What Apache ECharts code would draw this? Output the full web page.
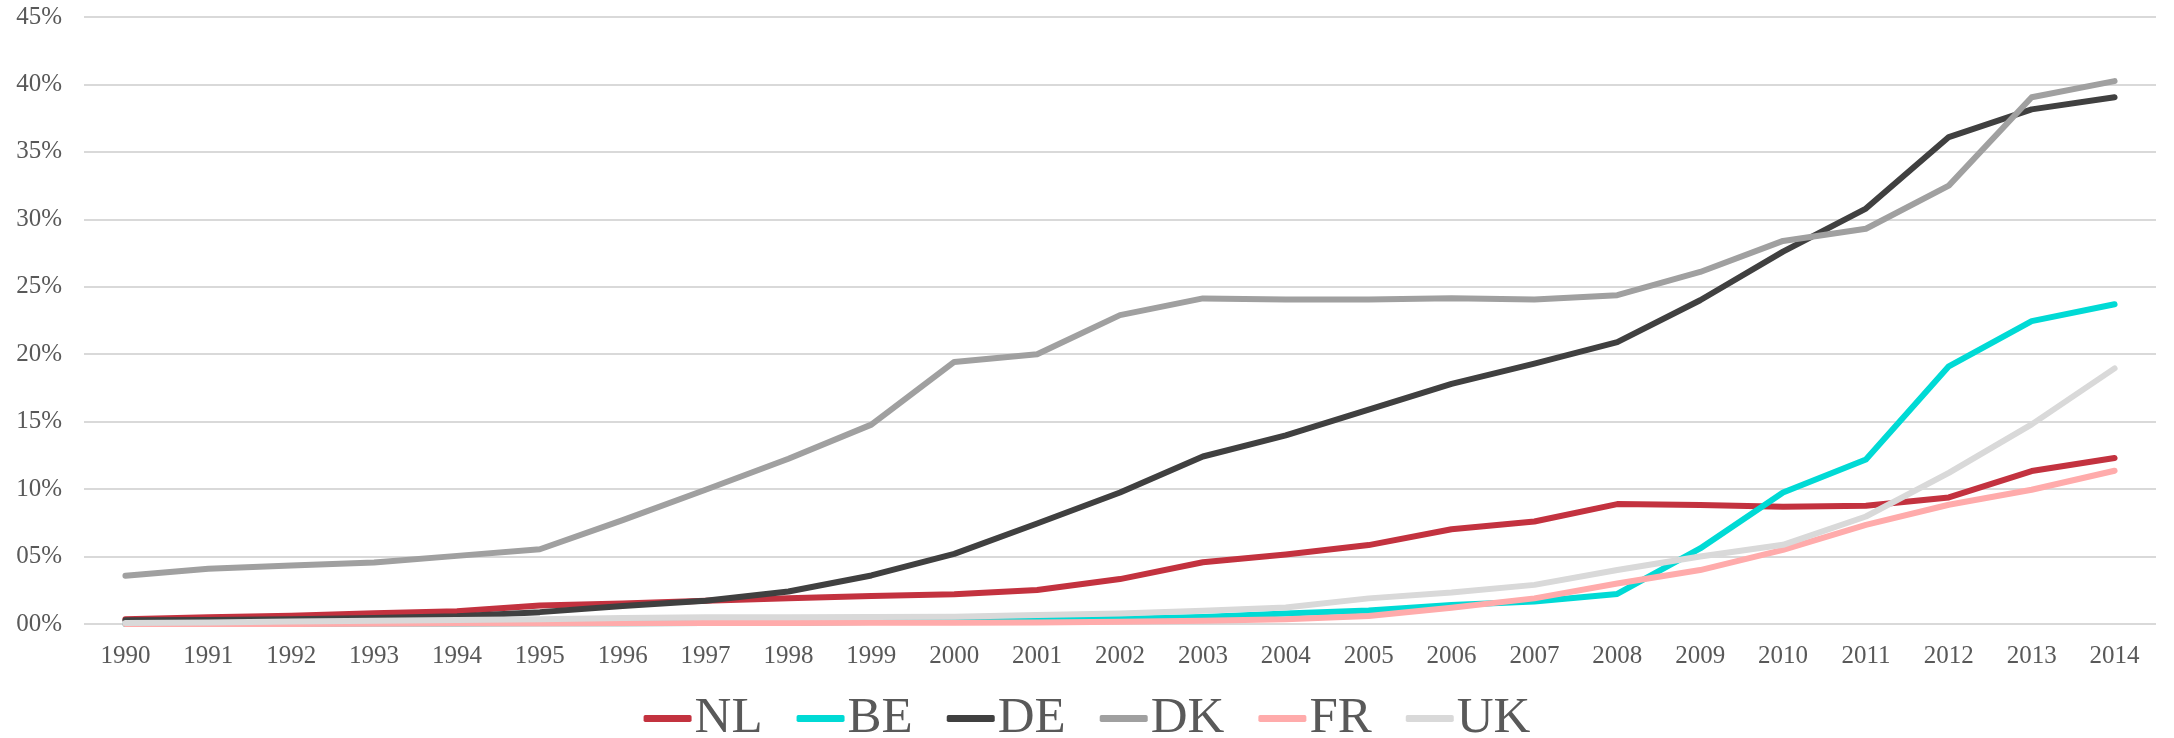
<!DOCTYPE html>
<html>
<head>
<meta charset="utf-8">
<script src="https://cdn.jsdelivr.net/npm/echarts@6/dist/echarts.min.js"></script>
<style>
html,body{margin:0;padding:0;background:#fff;}
#chart{width:2174px;height:738px;}
</style>
</head>
<body>
<div id="chart"></div>
<script>
var years = ['1990','1991','1992','1993','1994','1995','1996','1997','1998','1999','2000','2001','2002','2003','2004','2005','2006','2007','2008','2009','2010','2011','2012','2013','2014'];
var NL = [0.35,0.5,0.62,0.8,0.95,1.38,1.52,1.72,1.9,2.08,2.2,2.52,3.33,4.58,5.15,5.85,7.02,7.6,8.89,8.82,8.7,8.77,9.38,11.34,12.3];
var BE = [0.0,0.0,0.02,0.03,0.04,0.05,0.06,0.08,0.1,0.14,0.18,0.28,0.38,0.52,0.78,1.0,1.4,1.66,2.23,5.6,9.75,12.2,19.1,22.45,23.7];
var DE = [0.27,0.3,0.36,0.45,0.57,0.88,1.33,1.73,2.41,3.6,5.2,7.45,9.75,12.42,13.98,15.9,17.8,19.3,20.9,24.0,27.6,30.8,36.1,38.15,39.05];
var DK = [3.57,4.09,4.33,4.56,5.05,5.54,7.7,9.95,12.25,14.78,19.43,20.0,22.9,24.14,24.05,24.05,24.15,24.05,24.38,26.1,28.4,29.3,32.5,39.05,40.25];
var FR = [0.0,0.0,0.0,0.02,0.03,0.04,0.05,0.07,0.08,0.09,0.1,0.12,0.16,0.24,0.35,0.6,1.2,1.9,3.0,4.0,5.5,7.35,8.84,9.95,11.36];
var UK = [0.08,0.12,0.18,0.24,0.3,0.36,0.44,0.5,0.5,0.52,0.54,0.66,0.78,0.98,1.22,1.9,2.33,2.9,4.0,5.0,5.87,7.97,11.2,14.8,18.95];
var yTicks = {min:0, max:45, interval:5};

var seriesDefs = [
  {name:'NL', data:NL, color:'#c3323f'},
  {name:'BE', data:BE, color:'#00dad5'},
  {name:'DE', data:DE, color:'#404040'},
  {name:'DK', data:DK, color:'#a0a0a0'},
  {name:'FR', data:FR, color:'#ffabab'},
  {name:'UK', data:UK, color:'#d9d9d9'}
];

var font = '"Liberation Serif", "DejaVu Serif", serif';
var chart = echarts.init(document.getElementById('chart'), null, {renderer:'canvas'});
chart.setOption({
  animation:false,
  backgroundColor:'#ffffff',
  grid:{left:84, right:18, top:17, bottom:114, containLabel:false},
  xAxis:{
    type:'category',
    data:years,
    boundaryGap:true,
    axisLine:{show:false},
    axisTick:{show:false},
    axisLabel:{color:'#595959', fontFamily:font, fontSize:25, margin:20}
  },
  yAxis:{
    type:'value',
    min:yTicks.min, max:yTicks.max, interval:yTicks.interval,
    axisLine:{show:false},
    axisTick:{show:false},
    splitLine:{lineStyle:{color:'#d9d9d9', width:2}},
    axisLabel:{
      color:'#595959', fontFamily:font, fontSize:25, margin:22,
      formatter:function(v){ var s = String(Math.round(v)); if(s.length<2) s='0'+s; return s+'%'; }
    }
  },
  legend:{
    bottom:-6,
    left:'center',
    padding:0,
    itemGap:34,
    itemWidth:48,
    itemHeight:7,
    icon:'roundRect',
    textStyle:{color:'#595959', fontFamily:font, fontSize:51, padding:[0,0,0,-2]},
    data:seriesDefs.map(function(s){return s.name;})
  },
  series:seriesDefs.map(function(s){
    return {
      name:s.name,
      type:'line',
      data:s.data,
      showSymbol:false,
      symbol:'none',
      smooth:false,
      color:s.color,
      lineStyle:{color:s.color, width:6, cap:'round', join:'round'},
      itemStyle:{color:s.color}
    };
  })
});
</script>
</body>
</html>
